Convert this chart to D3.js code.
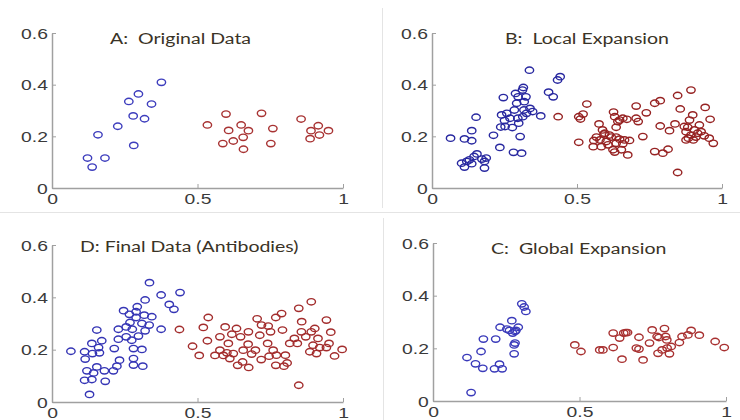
<!DOCTYPE html>
<html>
<head>
<meta charset="utf-8">
<script src="https://cdnjs.cloudflare.com/ajax/libs/d3/7.8.5/d3.min.js"></script>
<style>
  body { margin: 0; background: #fff; }
  svg { display: block; }
</style>
</head>
<body>
<div id="chart"></div>
<script>
// ---- data ----
const xTicks = [0, 0.5, 1];
const yTicks = [0, 0.2, 0.4, 0.6];
const panelTitles = ["A:  Original Data", "B:  Local Expansion", "D: Final Data (Antibodies)", "C:  Global Expansion"];

const originalBlue = [
  [0.122, 0.116], [0.138, 0.081], [0.158, 0.206], [0.182, 0.116], [0.226, 0.239], [0.264, 0.335],
  [0.297, 0.364], [0.279, 0.279], [0.281, 0.165], [0.318, 0.268], [0.342, 0.325], [0.376, 0.409]
];
const originalRed = [
  [0.534, 0.244], [0.598, 0.286], [0.607, 0.223], [0.587, 0.172], [0.623, 0.182], [0.650, 0.244],
  [0.675, 0.222], [0.657, 0.196], [0.658, 0.150], [0.720, 0.289], [0.759, 0.230], [0.752, 0.172],
  [0.856, 0.267], [0.890, 0.222], [0.915, 0.241], [0.950, 0.222], [0.887, 0.191], [0.919, 0.205]
];

const localBlue = [
  [0.064, 0.193], [0.112, 0.190], [0.137, 0.222], [0.137, 0.183], [0.152, 0.274], [0.102, 0.096],
  [0.112, 0.081], [0.120, 0.103], [0.129, 0.109], [0.137, 0.094], [0.145, 0.122], [0.155, 0.132],
  [0.181, 0.103], [0.187, 0.116], [0.181, 0.077], [0.172, 0.112], [0.212, 0.204], [0.234, 0.157],
  [0.237, 0.236], [0.240, 0.283], [0.246, 0.350], [0.250, 0.261], [0.258, 0.289], [0.252, 0.238],
  [0.269, 0.270], [0.277, 0.234], [0.281, 0.138], [0.284, 0.302], [0.288, 0.366], [0.292, 0.328],
  [0.296, 0.270], [0.299, 0.251], [0.304, 0.199], [0.309, 0.135], [0.315, 0.389], [0.318, 0.334],
  [0.317, 0.302], [0.313, 0.276], [0.326, 0.289], [0.336, 0.456], [0.347, 0.296], [0.375, 0.279],
  [0.402, 0.371], [0.418, 0.353], [0.433, 0.418], [0.442, 0.431], [0.338, 0.308], [0.324, 0.353],
  [0.312, 0.379], [0.297, 0.353]
];
const localRed = [
  [0.435, 0.276], [0.506, 0.276], [0.512, 0.267], [0.521, 0.286], [0.534, 0.325], [0.506, 0.177],
  [0.558, 0.184], [0.576, 0.248], [0.588, 0.225], [0.593, 0.209], [0.567, 0.197], [0.579, 0.186],
  [0.556, 0.160], [0.584, 0.160], [0.601, 0.180], [0.607, 0.167], [0.618, 0.197], [0.626, 0.294],
  [0.630, 0.276], [0.635, 0.235], [0.641, 0.257], [0.647, 0.263], [0.658, 0.270], [0.672, 0.266],
  [0.704, 0.317], [0.704, 0.270], [0.711, 0.257], [0.739, 0.291], [0.635, 0.197], [0.647, 0.189],
  [0.635, 0.173], [0.624, 0.148], [0.630, 0.139], [0.653, 0.148], [0.658, 0.171], [0.681, 0.184],
  [0.675, 0.128], [0.727, 0.199], [0.768, 0.328], [0.787, 0.338], [0.787, 0.240], [0.768, 0.141],
  [0.796, 0.135], [0.814, 0.150], [0.819, 0.222], [0.838, 0.248], [0.847, 0.358], [0.856, 0.306],
  [0.893, 0.379], [0.847, 0.060], [0.876, 0.218], [0.882, 0.235], [0.888, 0.263], [0.899, 0.283],
  [0.893, 0.205], [0.905, 0.225], [0.910, 0.197], [0.922, 0.244], [0.916, 0.212], [0.928, 0.218],
  [0.942, 0.312], [0.959, 0.266], [0.956, 0.193], [0.970, 0.173], [0.876, 0.186], [0.884, 0.193],
  [0.901, 0.186], [0.939, 0.202], [0.870, 0.238], [0.664, 0.186], [0.596, 0.212], [0.612, 0.205]
];

const finalBlue = [
  [0.065, 0.194], [0.112, 0.192], [0.114, 0.164], [0.137, 0.224], [0.139, 0.185], [0.160, 0.208],
  [0.163, 0.188], [0.154, 0.275], [0.171, 0.234], [0.120, 0.119], [0.143, 0.111], [0.154, 0.134],
  [0.112, 0.083], [0.137, 0.086], [0.180, 0.119], [0.183, 0.079], [0.129, 0.029], [0.211, 0.119],
  [0.223, 0.137], [0.232, 0.160], [0.214, 0.204], [0.228, 0.240], [0.228, 0.278], [0.246, 0.349],
  [0.255, 0.287], [0.255, 0.249], [0.266, 0.335], [0.268, 0.304], [0.276, 0.278], [0.274, 0.236],
  [0.280, 0.204], [0.280, 0.166], [0.280, 0.141], [0.289, 0.345], [0.293, 0.364], [0.289, 0.323],
  [0.297, 0.252], [0.309, 0.300], [0.309, 0.201], [0.312, 0.137], [0.317, 0.332], [0.320, 0.272],
  [0.320, 0.390], [0.334, 0.294], [0.343, 0.326], [0.335, 0.456], [0.375, 0.409], [0.375, 0.278],
  [0.403, 0.373], [0.419, 0.354], [0.440, 0.418]
];
const finalRed = [
  [0.438, 0.277], [0.483, 0.213], [0.506, 0.178], [0.520, 0.285], [0.534, 0.234], [0.537, 0.323],
  [0.560, 0.178], [0.577, 0.249], [0.589, 0.178], [0.595, 0.287], [0.606, 0.224], [0.601, 0.188],
  [0.611, 0.166], [0.623, 0.185], [0.618, 0.259], [0.634, 0.281], [0.638, 0.140], [0.648, 0.249],
  [0.655, 0.153], [0.657, 0.198], [0.675, 0.268], [0.674, 0.221], [0.676, 0.132], [0.686, 0.183],
  [0.699, 0.198], [0.705, 0.318], [0.714, 0.255], [0.719, 0.162], [0.720, 0.294], [0.743, 0.290],
  [0.741, 0.224], [0.746, 0.175], [0.751, 0.268], [0.760, 0.198], [0.769, 0.140], [0.771, 0.179],
  [0.769, 0.323], [0.789, 0.338], [0.792, 0.275], [0.797, 0.137], [0.802, 0.179], [0.808, 0.149],
  [0.817, 0.224], [0.833, 0.243], [0.843, 0.224], [0.848, 0.358], [0.848, 0.064], [0.857, 0.268],
  [0.858, 0.307], [0.872, 0.249], [0.886, 0.192], [0.891, 0.383], [0.891, 0.268], [0.897, 0.217],
  [0.903, 0.281], [0.909, 0.185], [0.914, 0.243], [0.920, 0.208], [0.943, 0.313], [0.943, 0.208],
  [0.952, 0.224], [0.958, 0.267], [0.971, 0.176], [0.997, 0.201], [0.577, 0.198]
];

const globalBlue = [
  [0.116, 0.165], [0.145, 0.141], [0.170, 0.124], [0.164, 0.188], [0.172, 0.235], [0.214, 0.235],
  [0.210, 0.122], [0.227, 0.140], [0.236, 0.122], [0.130, 0.032], [0.229, 0.280], [0.252, 0.273],
  [0.261, 0.268], [0.269, 0.305], [0.272, 0.258], [0.280, 0.264], [0.283, 0.268], [0.277, 0.213],
  [0.280, 0.220], [0.277, 0.179], [0.291, 0.280], [0.303, 0.369], [0.311, 0.357], [0.317, 0.340]
];
const globalRed = [
  [0.484, 0.213], [0.505, 0.188], [0.569, 0.194], [0.580, 0.194], [0.615, 0.203], [0.615, 0.258],
  [0.637, 0.239], [0.645, 0.159], [0.651, 0.258], [0.658, 0.260], [0.664, 0.260], [0.703, 0.242],
  [0.694, 0.201], [0.703, 0.197], [0.717, 0.156], [0.739, 0.220], [0.748, 0.270], [0.765, 0.245],
  [0.771, 0.241], [0.768, 0.181], [0.782, 0.194], [0.790, 0.275], [0.794, 0.245], [0.798, 0.232],
  [0.799, 0.201], [0.807, 0.179], [0.813, 0.207], [0.841, 0.222], [0.850, 0.245], [0.870, 0.251],
  [0.881, 0.268], [0.909, 0.250], [0.963, 0.226], [0.994, 0.203]
];

// ---- layout ----
const W = 740, H = 420;
const panels = [
  { title: panelTitles[0], blue: originalBlue, red: originalRed, l: 52, r: 343, t: 33, b: 188, tx: 110, ty: 44, bc: "#3d3dbd", rc: "#a83333" },
  { title: panelTitles[1], blue: localBlue, red: localRed, l: 432, r: 722, t: 33, b: 188, tx: 505, ty: 44, bc: "#2828a0", rc: "#962222" },
  { title: panelTitles[2], blue: finalBlue, red: finalRed, l: 52, r: 343, t: 245, b: 402, tx: 80, ty: 252, bc: "#3535b5", rc: "#a32d2d" },
  { title: panelTitles[3], blue: globalBlue, red: globalRed, l: 433, r: 726, t: 243, b: 401, tx: 491, ty: 254, bc: "#3a3aba", rc: "#a83030" }
];

const svg = d3.select("#chart").append("svg")
  .attr("width", W)
  .attr("height", H);

// faint panel borders from the original collage
const borders = svg.append("g").attr("stroke", "#e4e4e4").attr("stroke-width", 1);
borders.append("line").attr("x1", 382.5).attr("x2", 382.5).attr("y1", 8).attr("y2", 208);
borders.append("line").attr("x1", 0).attr("x2", W).attr("y1", 212.5).attr("y2", 212.5);
borders.append("line").attr("x1", 383.5).attr("x2", 383.5).attr("y1", 218).attr("y2", H);

panels.forEach(p => {
  const x = d3.scaleLinear().domain([0, 1]).range([p.l, p.r]);
  const y = d3.scaleLinear().domain([0, 0.6]).range([p.b, p.t]);
  const g = svg.append("g");

  const xAxis = g.append("g")
    .attr("transform", `translate(0,${p.b})`)
    .call(d3.axisBottom(x).tickValues(xTicks).tickFormat(d3.format("")).tickSizeInner(-4).tickSizeOuter(0).tickPadding(6));
  const yAxis = g.append("g")
    .attr("transform", `translate(${p.l},0)`)
    .call(d3.axisLeft(y).tickValues(yTicks).tickFormat(d3.format("")).tickSizeInner(-4).tickSizeOuter(0).tickPadding(3));

  [xAxis, yAxis].forEach(a => {
    a.select(".domain").attr("stroke", "#a0a0a0").attr("stroke-width", 1.5);
    a.selectAll(".tick line").attr("stroke", "#a0a0a0").attr("stroke-width", 1);
    a.selectAll("text")
      .attr("fill", "#3a3a3a")
      .style("font-family", "'Liberation Sans', Arial, sans-serif")
      .style("font-size", "14px");
  });
  xAxis.selectAll("text").attr("transform", "scale(1.38,1)");
  yAxis.selectAll("text").attr("transform", "scale(1.38,1)").attr("dy", "0.36em");

  g.append("text")
    .attr("transform", `translate(${p.tx},${p.ty}) scale(1.22,1)`)
    .attr("fill", "#3a3326")
    .style("font-family", "Lato, 'Open Sans', sans-serif")
    .style("font-size", "16px")
    .style("white-space", "pre")
    .text(p.title);

  const groups = [{ pts: p.red, c: p.rc }, { pts: p.blue, c: p.bc }];
  groups.forEach(s => {
    g.append("g").selectAll("ellipse")
      .data(s.pts)
      .join("ellipse")
      .attr("cx", d => x(d[0]))
      .attr("cy", d => y(d[1]))
      .attr("rx", 4.2)
      .attr("ry", 3.2)
      .attr("fill", "none")
      .attr("stroke", s.c)
      .attr("stroke-width", 1.4);
  });
});
</script>
</body>
</html>
